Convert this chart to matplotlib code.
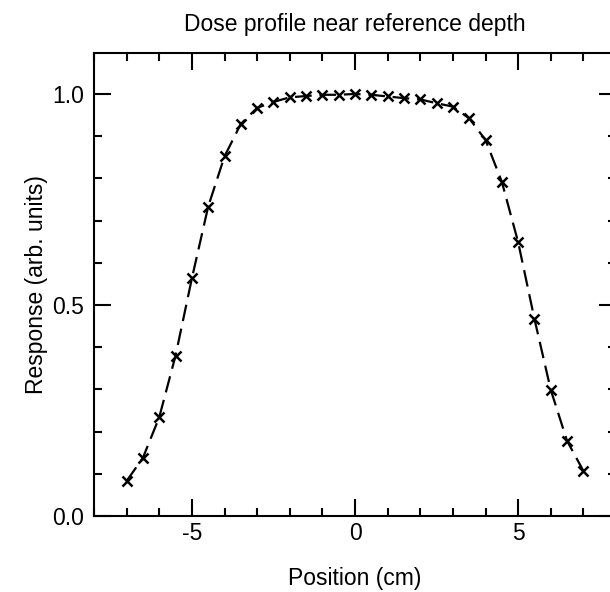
import matplotlib
matplotlib.use("Agg")
import matplotlib.pyplot as plt
from matplotlib.ticker import MultipleLocator, FormatStrFormatter

plt.rcParams['font.family'] = ['Liberation Sans', 'DejaVu Sans']
plt.rcParams['axes.unicode_minus'] = False

position_cm = [-7.0, -6.5, -6.0, -5.5, -5.0, -4.5, -4.0, -3.5, -3.0, -2.5, -2.0, -1.5, -1.0, -0.5,
               0.0, 0.5, 1.0, 1.5, 2.0, 2.5, 3.0, 3.5, 4.0, 4.5, 5.0, 5.5, 6.0, 6.5, 7.0]
response = [0.083, 0.138, 0.234, 0.380, 0.563, 0.733, 0.852, 0.929, 0.967, 0.981, 0.992, 0.995,
            0.998, 0.998, 1.000, 0.998, 0.994, 0.990, 0.987, 0.978, 0.970, 0.942, 0.891, 0.792,
            0.649, 0.467, 0.299, 0.178, 0.107]

title = "Dose profile near reference depth"
xlabel = "Position (cm)"
ylabel = "Response (arb. units)"

fig = plt.figure(figsize=(6.10, 5.92), dpi=100)
ax = fig.add_axes([94/610, 76/592, (616-94)/610, (539-76)/592])

line, = ax.plot(position_cm, response, color='black', lw=1.6, marker='x', ms=7.5, mew=1.8)
line.set_dashes([7.5, 3.5])

ax.set_xlim(-8, 8)
ax.set_ylim(0, 1.097)
ax.xaxis.set_major_locator(MultipleLocator(5))
ax.xaxis.set_minor_locator(MultipleLocator(1))
ax.yaxis.set_major_locator(MultipleLocator(0.5))
ax.yaxis.set_minor_locator(MultipleLocator(0.1))
ax.xaxis.set_major_formatter(FormatStrFormatter('%d'))
ax.yaxis.set_major_formatter(FormatStrFormatter('%.1f'))

fs = 16.5
ax.tick_params(which='both', direction='in', top=True, right=True, width=1.5, labelsize=fs)
ax.tick_params(which='major', length=12)
ax.tick_params(which='minor', length=6)
ax.tick_params(axis='x', which='major', pad=4)
ax.tick_params(axis='y', which='major', pad=7)
for s in ax.spines.values():
    s.set_linewidth(1.5)

ax.set_title(title, fontsize=fs, pad=16)
ax.set_xlabel(xlabel, fontsize=fs, labelpad=16)
ax.set_ylabel(ylabel, fontsize=fs, labelpad=3)

fig.savefig("out.png", dpi=100)
